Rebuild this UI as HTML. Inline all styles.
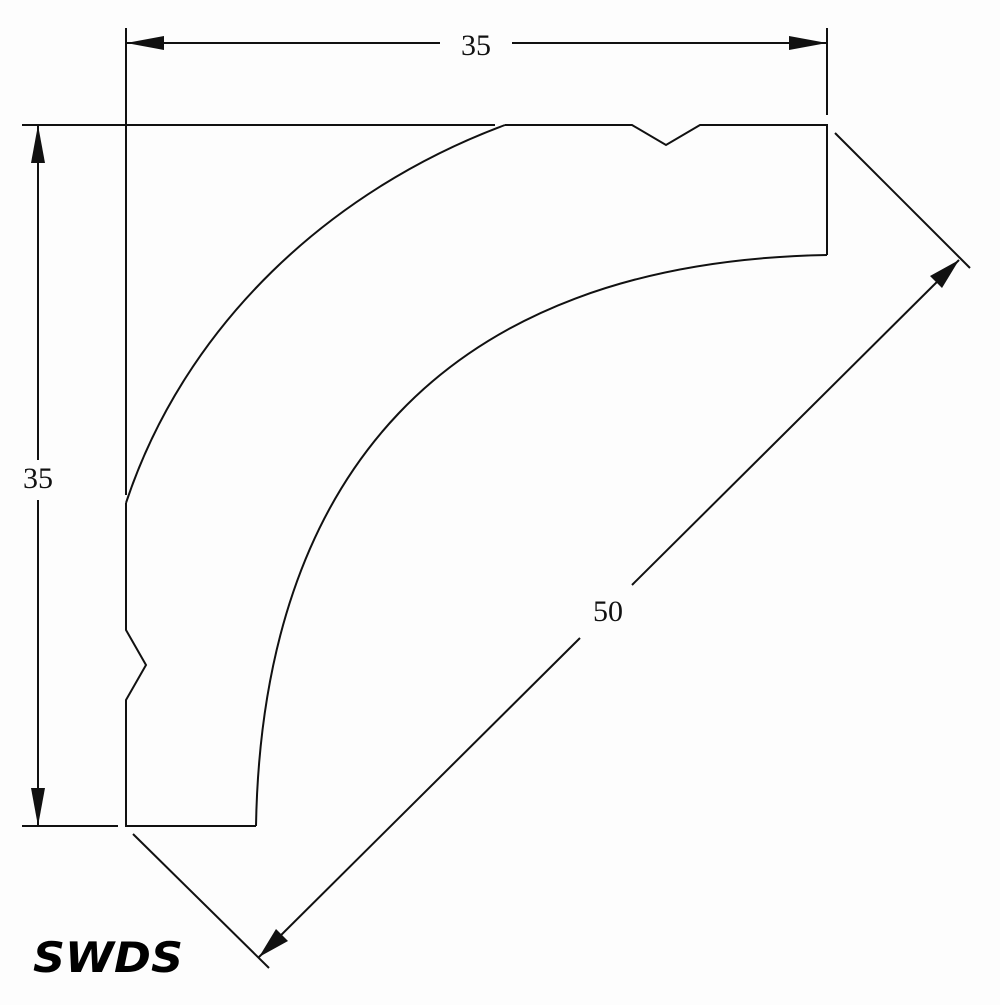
<!DOCTYPE html>
<html><head><style>html,body{margin:0;padding:0;background:#fdfdfd}</style></head>
<body>
<svg width="1000" height="1000" viewBox="0 0 1000 1000" xmlns="http://www.w3.org/2000/svg">
<rect width="1000" height="1000" fill="#fdfdfd"/>
<g fill="none" stroke="#111" stroke-width="2">
<!-- profile -->
<path d="M505,125 L632,125 L666,145 L700,125 L827,125 L827,255"/>
<path d="M126,503 L126,630 L146,665 L126,700 L126,826 L256,826"/>
<path d="M126,503 C185,325 330,190 505,125"/>
<path d="M256,826 C262,480 440,262 827,255"/>
<!-- extension lines -->
<line x1="126" y1="28" x2="126" y2="495"/>
<line x1="827" y1="28" x2="827" y2="115"/>
<line x1="22" y1="125" x2="495" y2="125"/>
<line x1="22" y1="826" x2="118" y2="826"/>
<line x1="835" y1="133" x2="970" y2="268"/>
<line x1="133" y1="834" x2="269" y2="968"/>
<!-- dim lines -->
<line x1="126" y1="43" x2="440" y2="43"/>
<line x1="512" y1="43" x2="827" y2="43"/>
<line x1="38" y1="125" x2="38" y2="460"/>
<line x1="38" y1="500" x2="38" y2="826"/>
<line x1="959" y1="260" x2="632" y2="585"/>
<line x1="580" y1="638" x2="259" y2="957"/>
</g>
<g fill="#111">
<polygon points="126,43 164,36 164,50"/>
<polygon points="827,43 789,36 789,50"/>
<polygon points="38,125 31,163 45,163"/>
<polygon points="38,826 31,788 45,788"/>
<polygon points="959,260 942,288 930,276"/>
<polygon points="259,957 276,929 288,941"/>
</g>
<g font-family="Liberation Serif, serif" font-size="30" fill="#111" text-anchor="middle">
<text x="476" y="55">35</text>
<text x="38" y="488">35</text>
<text x="608" y="621">50</text>
</g>
<text x="33" y="972" font-family="DejaVu Sans, sans-serif" font-weight="bold" font-style="italic" font-size="42" textLength="150" lengthAdjust="spacingAndGlyphs" fill="#000">SWDS</text>
</svg>
</body></html>
